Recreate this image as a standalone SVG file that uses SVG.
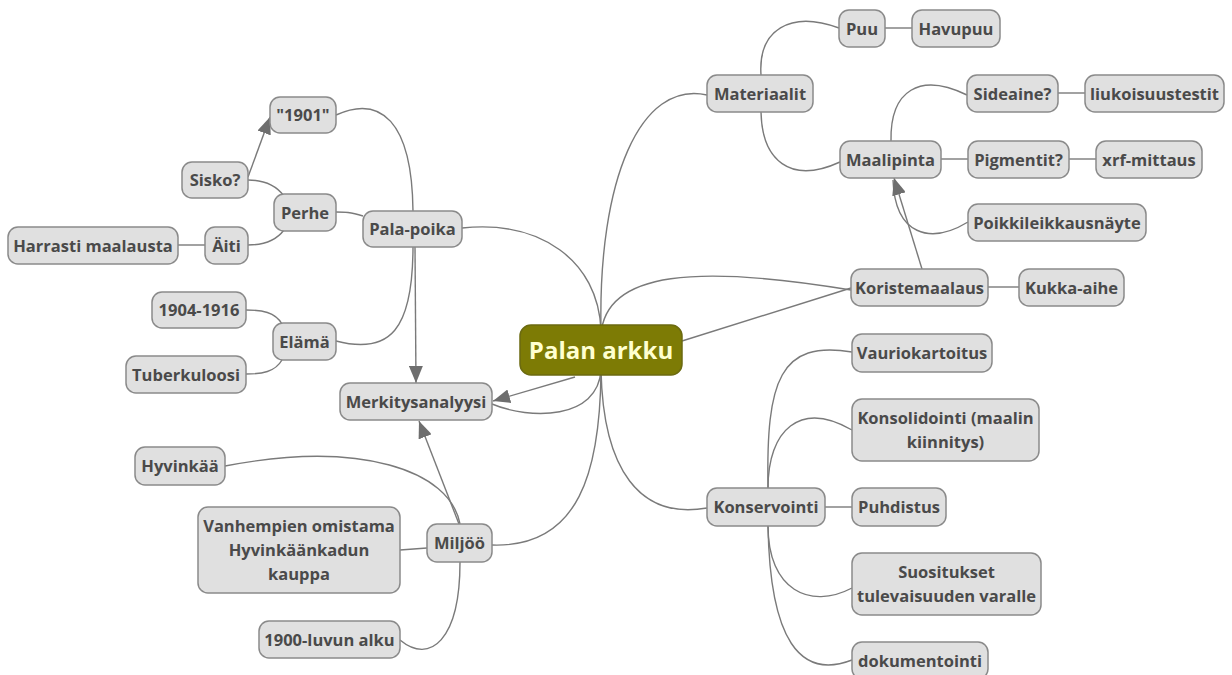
<svg xmlns="http://www.w3.org/2000/svg" width="1232" height="675" viewBox="0 0 1232 675">
<style>
.n rect{fill:#e0e0e0;stroke:#8a8a8a;stroke-width:1.5}
.n text{font-family:"Open Sans","Noto Sans","DejaVu Sans",sans-serif;font-weight:700;font-size:16.5px;fill:#4a4a4a;text-anchor:middle}
.root rect{fill:#7d7b05;stroke:#6b6a10;stroke-width:1.5}
.root text{font-family:"Open Sans","Noto Sans","DejaVu Sans",sans-serif;font-weight:700;font-size:24px;fill:#ffffd0;text-anchor:middle}
.links path{fill:none;stroke:#7a7a7a;stroke-width:1.4}
.links .arr{marker-end:url(#ah)}
</style>
<defs>
<marker id="ah" markerUnits="userSpaceOnUse" markerWidth="18" markerHeight="14" refX="17" refY="7" orient="auto">
<path d="M0,0 L17,7 L0,14 z" fill="#6e6e6e"/>
</marker>
</defs>
<rect width="1232" height="675" fill="#ffffff"/>
<g id="connectors" class="links">
<path d="M601 330 C598 180 640 80 707 95"/>
<path d="M601 335 C605 270 700 265 851 290"/>
<path d="M682 341 L851 288"/>
<path d="M601 370 C603 470 640 520 707 508"/>
<path d="M601 330 C598 260 540 220 462 228"/>
<path class="arr" d="M575 377 L493 401"/>
<path d="M492 404 C530 420 598 420 601 370"/>
<path d="M601 372 C600 470 580 548 492 545"/>
<path d="M413 211 C412 120 380 95 336 115"/>
<path d="M363 216 C350 212 345 212 336 212"/>
<path d="M413 246 C413 330 390 355 336 341"/>
<path class="arr" d="M415 247 L416 383"/>
<path d="M284 196 C275 184 262 180 248 180"/>
<path d="M284 230 C275 242 262 245 248 245"/>
<path class="arr" d="M248 177 L270 117"/>
<path d="M178 245 L205 245"/>
<path d="M282 324 C275 312 262 310 246 310"/>
<path d="M282 360 C275 372 262 374 246 374"/>
<path d="M460 524 C450 470 360 440 225 466"/>
<path d="M400 550 L427 548"/>
<path d="M460 562 C460 640 430 665 400 640"/>
<path class="arr" d="M459 524 L419 421"/>
<path d="M761 75 C758 30 790 10 839 28"/>
<path d="M761 112 C762 160 790 185 840 162"/>
<path d="M885 28 L912 28"/>
<path d="M891 141 C890 90 920 72 967 95"/>
<path d="M941 159 L968 159"/>
<path d="M893 180 C895 235 930 245 968 222"/>
<path class="arr" d="M922 269 L894 178"/>
<path d="M1069 159 L1096 159"/>
<path d="M1058 93 L1085 93"/>
<path d="M988 287 L1019 287"/>
<path d="M768 488 C766 380 780 340 852 352"/>
<path d="M768 488 C768 430 800 400 852 430"/>
<path d="M825 507 L852 507"/>
<path d="M768 526 C768 590 810 610 852 588"/>
<path d="M768 526 C770 640 800 680 852 660"/>
</g>
<g id="root" class="root"><rect x="520" y="325" width="162" height="50" rx="11"/><text x="601" y="358.5">Palan arkku</text></g>
<g id="n1901" class="n"><rect x="270" y="97" width="66" height="36" rx="10"/><text x="303" y="121">"1901"</text></g>
<g id="sisko" class="n"><rect x="182" y="162" width="66" height="36" rx="10"/><text x="215" y="186">Sisko?</text></g>
<g id="perhe" class="n"><rect x="274" y="194" width="62" height="37" rx="10"/><text x="305" y="218.5">Perhe</text></g>
<g id="palapoika" class="n"><rect x="363" y="211" width="99" height="36" rx="10"/><text x="412.5" y="235">Pala-poika</text></g>
<g id="harrasti" class="n"><rect x="8" y="227" width="170" height="37" rx="10"/><text x="93" y="251.5">Harrasti maalausta</text></g>
<g id="aiti" class="n"><rect x="205" y="227" width="43" height="37" rx="10"/><text x="226.5" y="251.5">Äiti</text></g>
<g id="v1904" class="n"><rect x="152" y="292" width="94" height="36" rx="10"/><text x="199" y="316">1904-1916</text></g>
<g id="elama" class="n"><rect x="273" y="323" width="63" height="37" rx="10"/><text x="304.5" y="347.5">Elämä</text></g>
<g id="tuberkuloosi" class="n"><rect x="126" y="356" width="120" height="37" rx="10"/><text x="186" y="380.5">Tuberkuloosi</text></g>
<g id="merkitys" class="n"><rect x="340" y="383" width="152" height="37" rx="10"/><text x="416" y="407.5">Merkitysanalyysi</text></g>
<g id="hyvinkaa" class="n"><rect x="135" y="447" width="90" height="38" rx="10"/><text x="180" y="472">Hyvinkää</text></g>
<g id="vanhempien" class="n"><rect x="198" y="507" width="202" height="86" rx="10"/><text x="299" y="532">Vanhempien omistama</text><text x="299" y="556">Hyvinkäänkadun</text><text x="299" y="580">kauppa</text></g>
<g id="miljoo" class="n"><rect x="427" y="524" width="65" height="38" rx="10"/><text x="459.5" y="549">Miljöö</text></g>
<g id="alku" class="n"><rect x="259" y="621" width="141" height="37" rx="10"/><text x="329.5" y="645.5">1900-luvun alku</text></g>
<g id="materiaalit" class="n"><rect x="707" y="75" width="106" height="37" rx="10"/><text x="760" y="99.5">Materiaalit</text></g>
<g id="puu" class="n"><rect x="839" y="10" width="46" height="37" rx="10"/><text x="862" y="34.5">Puu</text></g>
<g id="havupuu" class="n"><rect x="912" y="10" width="88" height="37" rx="10"/><text x="956" y="34.5">Havupuu</text></g>
<g id="sideaine" class="n"><rect x="967" y="75" width="91" height="37" rx="10"/><text x="1012.5" y="99.5">Sideaine?</text></g>
<g id="liukoisuus" class="n"><rect x="1085" y="75" width="139" height="37" rx="10"/><text x="1154.5" y="99.5">liukoisuustestit</text></g>
<g id="maalipinta" class="n"><rect x="840" y="141" width="101" height="37" rx="10"/><text x="890.5" y="165.5">Maalipinta</text></g>
<g id="pigmentit" class="n"><rect x="968" y="141" width="101" height="37" rx="10"/><text x="1018.5" y="165.5">Pigmentit?</text></g>
<g id="xrf" class="n"><rect x="1096" y="141" width="106" height="37" rx="10"/><text x="1149" y="165.5">xrf-mittaus</text></g>
<g id="poikki" class="n"><rect x="968" y="204" width="178" height="37" rx="10"/><text x="1057" y="228.5">Poikkileikkausnäyte</text></g>
<g id="koriste" class="n"><rect x="851" y="269" width="137" height="37" rx="10"/><text x="919.5" y="293.5">Koristemaalaus</text></g>
<g id="kukka" class="n"><rect x="1019" y="269" width="105" height="37" rx="10"/><text x="1071.5" y="293.5">Kukka-aihe</text></g>
<g id="vaurio" class="n"><rect x="852" y="334" width="140" height="38" rx="10"/><text x="922" y="359">Vauriokartoitus</text></g>
<g id="konsolidointi" class="n"><rect x="852" y="399" width="187" height="62" rx="10"/><text x="945.5" y="424">Konsolidointi (maalin</text><text x="945.5" y="448">kiinnitys)</text></g>
<g id="konservointi" class="n"><rect x="707" y="488" width="118" height="38" rx="10"/><text x="766" y="513">Konservointi</text></g>
<g id="puhdistus" class="n"><rect x="852" y="488" width="94" height="38" rx="10"/><text x="899" y="513">Puhdistus</text></g>
<g id="suositukset" class="n"><rect x="852" y="553" width="189" height="62" rx="10"/><text x="946.5" y="578">Suositukset</text><text x="946.5" y="602">tulevaisuuden varalle</text></g>
<g id="dokumentointi" class="n"><rect x="852" y="642" width="136" height="37" rx="10"/><text x="920" y="666.5">dokumentointi</text></g>
</svg>
